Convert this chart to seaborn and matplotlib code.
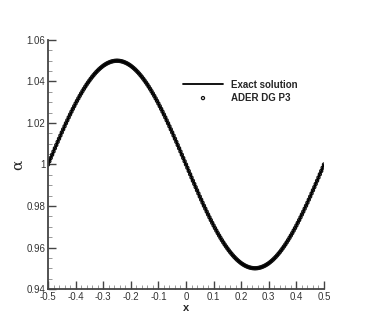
import numpy as np
import pandas as pd
import matplotlib
matplotlib.use("Agg")
import matplotlib.pyplot as plt
import matplotlib.ticker as mticker
import seaborn as sns

# x grid of the plotted solution points
x_vals = np.round(np.arange(-0.5, 0.5001, 0.005), 4)

# alpha values
alpha_vals = [
    1.00000, 1.00157, 1.00314, 1.00471, 1.00627, 1.00782, 1.00937, 1.01091, 1.01243, 1.01395,
    1.01545, 1.01694, 1.01841, 1.01986, 1.02129, 1.02270, 1.02409, 1.02545, 1.02679, 1.02810,
    1.02939, 1.03065, 1.03187, 1.03307, 1.03423, 1.03536, 1.03645, 1.03751, 1.03853, 1.03951,
    1.04045, 1.04135, 1.04222, 1.04304, 1.04382, 1.04455, 1.04524, 1.04589, 1.04649, 1.04704,
    1.04755, 1.04801, 1.04843, 1.04880, 1.04911, 1.04938, 1.04961, 1.04978, 1.04990, 1.04998,
    1.05000,
    1.04998, 1.04990, 1.04978, 1.04961, 1.04938, 1.04911, 1.04880, 1.04843, 1.04801, 1.04755,
    1.04704, 1.04649, 1.04589, 1.04524, 1.04455, 1.04382, 1.04304, 1.04222, 1.04135, 1.04045,
    1.03951, 1.03853, 1.03751, 1.03645, 1.03536, 1.03423, 1.03307, 1.03187, 1.03065, 1.02939,
    1.02810, 1.02679, 1.02545, 1.02409, 1.02270, 1.02129, 1.01986, 1.01841, 1.01694, 1.01545,
    1.01395, 1.01243, 1.01091, 1.00937, 1.00782, 1.00627, 1.00471, 1.00314, 1.00157, 1.00000,
    0.99843, 0.99686, 0.99529, 0.99373, 0.99218, 0.99063, 0.98909, 0.98757, 0.98605, 0.98455,
    0.98306, 0.98159, 0.98014, 0.97871, 0.97730, 0.97591, 0.97455, 0.97321, 0.97190, 0.97061,
    0.96935, 0.96813, 0.96693, 0.96577, 0.96464, 0.96355, 0.96249, 0.96147, 0.96049, 0.95955,
    0.95865, 0.95778, 0.95696, 0.95618, 0.95545, 0.95476, 0.95411, 0.95351, 0.95296, 0.95245,
    0.95199, 0.95157, 0.95120, 0.95089, 0.95062, 0.95039, 0.95022, 0.95010, 0.95002, 0.95000,
    0.95002, 0.95010, 0.95022, 0.95039, 0.95062, 0.95089, 0.95120, 0.95157, 0.95199, 0.95245,
    0.95296, 0.95351, 0.95411, 0.95476, 0.95545, 0.95618, 0.95696, 0.95778, 0.95865, 0.95955,
    0.96049, 0.96147, 0.96249, 0.96355, 0.96464, 0.96577, 0.96693, 0.96813, 0.96935, 0.97061,
    0.97190, 0.97321, 0.97455, 0.97591, 0.97730, 0.97871, 0.98014, 0.98159, 0.98306, 0.98455,
    0.98605, 0.98757, 0.98909, 0.99063, 0.99218, 0.99373, 0.99529, 0.99686, 0.99843, 1.00000,
]

df = pd.DataFrame({"x": x_vals, "alpha": alpha_vals})

sns.set_style("ticks")
plt.rcParams["font.family"] = ["Liberation Sans", "DejaVu Sans"]

fig = plt.figure(figsize=(3.68, 3.27), dpi=100)
ax = fig.add_axes([0.1304, 0.1162, 0.75, 0.7615])

sns.lineplot(data=df, x="x", y="alpha", ax=ax, color="black", linewidth=1.3,
             label="Exact solution")
sns.scatterplot(data=df, x="x", y="alpha", ax=ax, marker="o", s=5,
                facecolor="none", edgecolor="#111111", linewidth=0.9,
                label="ADER DG P3")

ax.set_xlim(-0.5, 0.5)
ax.set_ylim(0.94, 1.06)
ax.xaxis.set_major_locator(mticker.MultipleLocator(0.1))
ax.xaxis.set_minor_locator(mticker.MultipleLocator(0.02))
ax.yaxis.set_major_locator(mticker.MultipleLocator(0.02))
ax.yaxis.set_minor_locator(mticker.MultipleLocator(0.005))
fmt = mticker.FuncFormatter(lambda v, p: "%g" % round(v, 3))
ax.xaxis.set_major_formatter(fmt)
ax.yaxis.set_major_formatter(fmt)

sns.despine(ax=ax)
for side in ["left", "bottom"]:
    ax.spines[side].set_color("#444444")
    ax.spines[side].set_linewidth(1.3)
ax.tick_params(which="major", direction="in", length=6, width=1.0, color="#444444",
               labelsize=7, labelcolor="#333333", pad=2)
ax.tick_params(which="minor", direction="in", length=3, width=0.6, color="#888888")

ax.set_xlabel("x", fontsize=8, fontweight="bold", labelpad=1)
ax.set_ylabel("α", fontsize=11, labelpad=1, family=["DejaVu Serif"])

leg = ax.legend(loc="upper left", bbox_to_anchor=(0.47, 0.86), frameon=False,
                handlelength=4.2, handletextpad=0.8, borderpad=0, labelspacing=0.3,
                prop={"size": 7, "weight": "bold"})

fig.savefig("out.png", dpi=100)
